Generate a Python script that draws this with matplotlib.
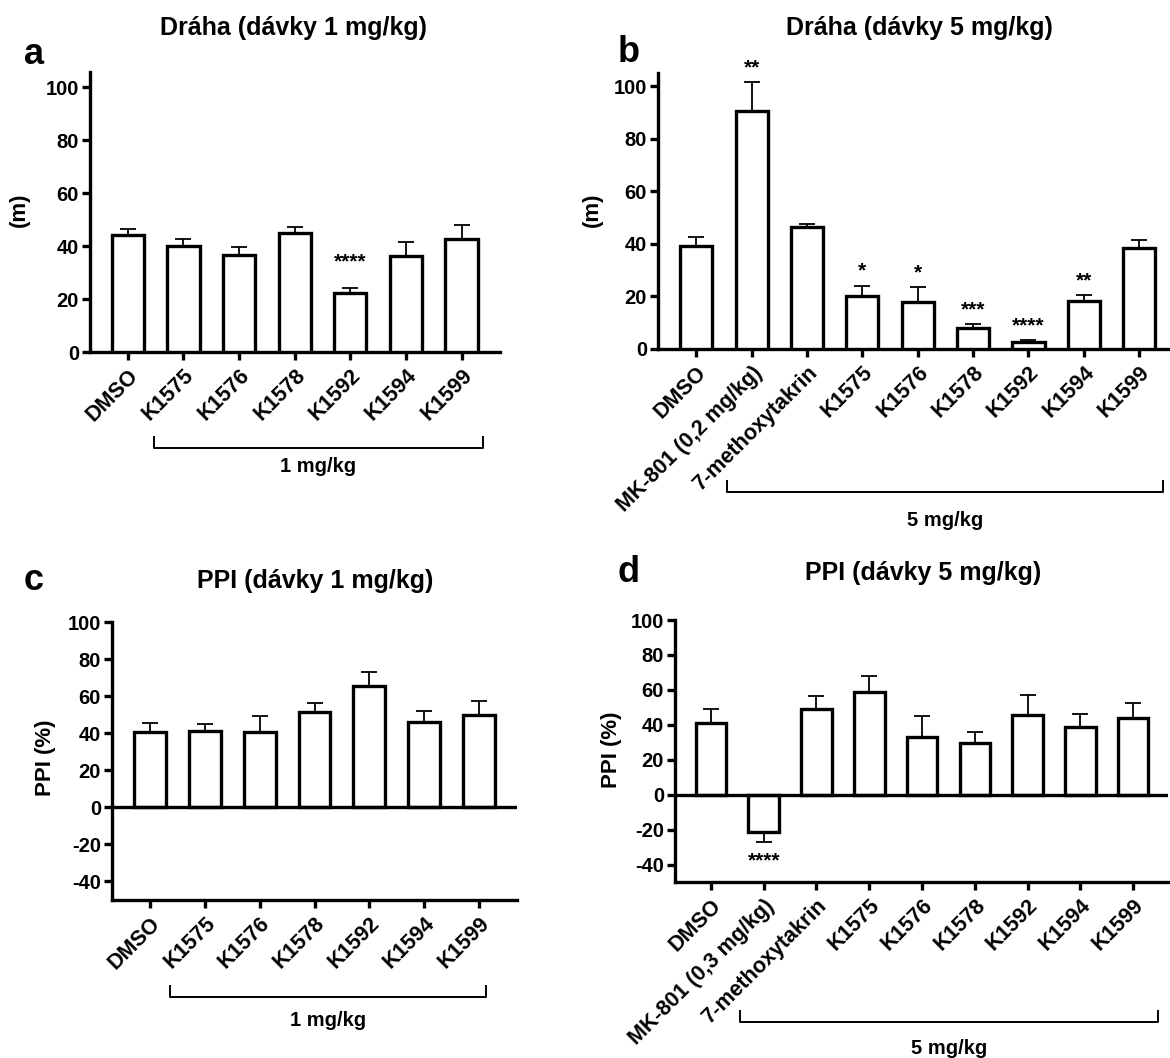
import numpy as np
import matplotlib
matplotlib.use("Agg")
import matplotlib.pyplot as plt
from matplotlib.transforms import blended_transform_factory

plt.rcParams['font.family'] = ['Liberation Sans', 'DejaVu Sans']
plt.rcParams['font.weight'] = 'bold'
plt.rcParams['axes.unicode_minus'] = False

# ---------------- data ----------------
groups_1 = ["DMSO", "K1575", "K1576", "K1578", "K1592", "K1594", "K1599"]
groups_5_a = ["DMSO", "MK-801 (0,2 mg/kg)", "7-methoxytakrin", "K1575", "K1576",
              "K1578", "K1592", "K1594", "K1599"]
groups_5_c = ["DMSO", "MK-801 (0,3 mg/kg)", "7-methoxytakrin", "K1575", "K1576",
              "K1578", "K1592", "K1594", "K1599"]

drah_1 = [44.2, 40.2, 36.8, 44.8, 22.1, 36.3, 42.6]
drah_1_err = [2.4, 2.4, 3.0, 2.3, 1.9, 5.2, 5.4]
drah_1_sig = ["", "", "", "", "****", "", ""]

drah_5 = [39.3, 90.7, 46.3, 20.2, 18.0, 7.9, 2.5, 18.3, 38.6]
drah_5_err = [3.2, 10.8, 1.3, 3.9, 5.5, 1.6, 0.8, 2.1, 2.9]
drah_5_sig = ["", "**", "", "*", "*", "***", "****", "**", ""]

ppi_1 = [40.5, 41.4, 40.5, 51.4, 65.6, 45.8, 49.7]
ppi_1_err = [5.1, 3.5, 8.7, 5.0, 7.2, 6.3, 7.6]

ppi_5 = [41.0, -21.5, 49.1, 58.7, 32.8, 29.7, 45.7, 38.5, 43.8]
ppi_5_err = [8.0, 5.7, 7.5, 9.3, 12.5, 6.3, 11.4, 7.4, 8.6]
ppi_5_sig = ["", "****", "", "", "", "", "", "", ""]

# ---------------- layout (pixels) ----------------
W, H = 1170, 1058
fig = plt.figure(figsize=(W / 100, H / 100), dpi=100)


def fx(px):
    return px / W


def fy(py):
    return 1 - py / H


def make_ax(left, right, top, bottom):
    return fig.add_axes([fx(left), fy(bottom), fx(right - left), (bottom - top) / H])


LW = 2.4


def style(ax):
    for s in ["top", "right"]:
        ax.spines[s].set_visible(False)
    for s in ["left", "bottom"]:
        ax.spines[s].set_linewidth(LW)
    ax.tick_params(axis="both", direction="out", length=6, width=LW)
    ax.tick_params(axis="y", labelsize=14.5, pad=2)
    for lab in ax.get_yticklabels():
        lab.set_fontweight("bold")


def bars(ax, vals, errs):
    x = np.arange(len(vals))
    ax.bar(x, vals, width=0.58, color="white", edgecolor="black", linewidth=LW, zorder=3)
    up = [e if v >= 0 else 0 for v, e in zip(vals, errs)]
    down = [e if v < 0 else 0 for v, e in zip(vals, errs)]
    ax.errorbar(x, vals, yerr=[down, up], fmt="none", ecolor="black",
                elinewidth=1.3, capsize=6, capthick=1.3, zorder=2)
    return x


def xlabels(ax, labels):
    ax.set_xticks(np.arange(len(labels)))
    ax.set_xticklabels(labels, rotation=45, ha="right", rotation_mode="anchor",
                       fontsize=15.5, fontweight="bold")


def stars(ax, x, sig, ypos):
    for xi, s, yp in zip(x, sig, ypos):
        if s:
            ax.text(xi, yp, s, ha="center", va="center", fontsize=15, fontweight="bold")


def bracket(ax, x0, x1, ypx, label, label_px):
    tr = blended_transform_factory(ax.transData, fig.transFigure)
    ax.plot([x0, x0, x1, x1], [fy(ypx - 11), fy(ypx), fy(ypx), fy(ypx - 11)],
            color="black", lw=1.4, transform=tr, clip_on=False)
    ax.text((x0 + x1) / 2, fy(label_px), label, transform=tr, ha="center", va="center",
            fontsize=14.5, fontweight="bold")


# ---------------- a ----------------
ax = make_ax(90, 500, 72, 352)
x = bars(ax, drah_1, drah_1_err)
ax.set_xlim(-0.68, len(groups_1) - 1 + 0.69)
ax.set_ylim(0, 105.7)
ax.set_yticks([0, 20, 40, 60, 80, 100])
xlabels(ax, groups_1)
style(ax)
stars(ax, x, drah_1_sig, [34.2] * len(x))
bracket(ax, 0.47, 6.38, 448, "1 mg/kg", 467)
fig.text(fx(294), fy(28), "Dráha (dávky 1 mg/kg)", ha="center", va="center", fontsize=18, fontweight="bold")
fig.text(fx(34), fy(55), "a", ha="center", va="center", fontsize=26, fontweight="bold")
fig.text(fx(19), fy(210), "(m)", ha="center", va="center", rotation=90, fontsize=16, fontweight="bold")

# ---------------- b ----------------
ax = make_ax(658, 1168, 73, 349)
x = bars(ax, drah_5, drah_5_err)
ax.set_xlim(-0.69, len(groups_5_a) - 1 + 0.52)
ax.set_ylim(0, 105.0)
ax.set_yticks([0, 20, 40, 60, 80, 100])
xlabels(ax, groups_5_a)
style(ax)
star_y = [v + e + 5.5 for v, e in zip(drah_5, drah_5_err)]
stars(ax, x, drah_5_sig, star_y)
bracket(ax, 0.56, 8.43, 492, "5 mg/kg", 520)
fig.text(fx(919), fy(28), "Dráha (dávky 5 mg/kg)", ha="center", va="center", fontsize=18, fontweight="bold")
fig.text(fx(629), fy(53), "b", ha="center", va="center", fontsize=26, fontweight="bold")
fig.text(fx(592), fy(210), "(m)", ha="center", va="center", rotation=90, fontsize=16, fontweight="bold")

# ---------------- c ----------------
ax = make_ax(112, 517, 622, 900)
x = bars(ax, ppi_1, ppi_1_err)
ax.set_xlim(-0.69, len(groups_1) - 1 + 0.69)
ax.set_ylim(-50, 100)
ax.set_yticks([-40, -20, 0, 20, 40, 60, 80, 100])
ax.axhline(0, color="black", lw=LW, zorder=4)
xlabels(ax, groups_1)
style(ax)
bracket(ax, 0.36, 6.13, 997, "1 mg/kg", 1020)
fig.text(fx(315), fy(581), "PPI (dávky 1 mg/kg)", ha="center", va="center", fontsize=18, fontweight="bold")
fig.text(fx(34), fy(580), "c", ha="center", va="center", fontsize=26, fontweight="bold")
fig.text(fx(45), fy(758), "PPI (%)", ha="center", va="center", rotation=90, fontsize=16, fontweight="bold")

# ---------------- d ----------------
ax = make_ax(675, 1168, 620, 882)
x = bars(ax, ppi_5, ppi_5_err)
ax.set_xlim(-0.68, len(groups_5_c) - 1 + 0.66)
ax.set_ylim(-50, 100)
ax.set_yticks([-40, -20, 0, 20, 40, 60, 80, 100])
ax.axhline(0, color="black", lw=LW, zorder=4)
xlabels(ax, groups_5_c)
style(ax)
stars(ax, x, ppi_5_sig, [-38] * len(x))
bracket(ax, 0.55, 8.48, 1022, "5 mg/kg", 1048)
fig.text(fx(923), fy(573), "PPI (dávky 5 mg/kg)", ha="center", va="center", fontsize=18, fontweight="bold")
fig.text(fx(629), fy(573), "d", ha="center", va="center", fontsize=26, fontweight="bold")
fig.text(fx(611), fy(750), "PPI (%)", ha="center", va="center", rotation=90, fontsize=16, fontweight="bold")

fig.savefig("out.png", dpi=100, facecolor="white")
